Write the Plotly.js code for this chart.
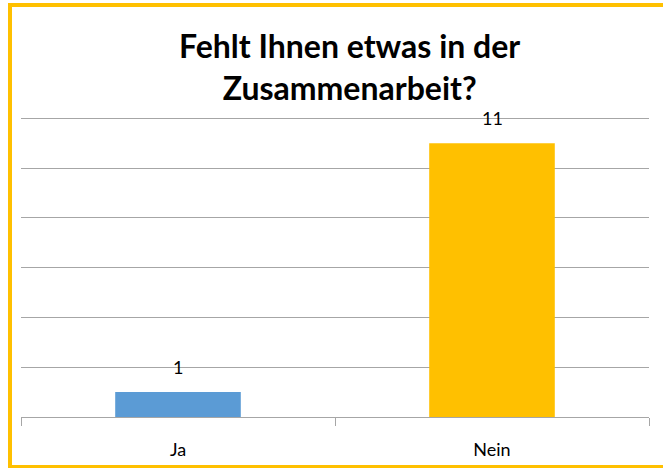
<!DOCTYPE html>
<html>
<head>
<meta charset="utf-8">
<script src="https://cdn.plot.ly/plotly-3.0.1.min.js"></script>
<style>html,body{margin:0;padding:0;background:#fff;overflow:hidden;}#chart{width:663px;height:468px;}</style>
</head>
<body>
<div id="chart"></div>
<script>
var categories = ["Ja", "Nein"];
var values = [1, 11];
var barColors = ["#5B9BD5", "#FFC000"];
var chartTitle = "Fehlt Ihnen etwas in der<br>Zusammenarbeit?";

var trace = {
  type: "bar",
  x: categories,
  y: values,
  marker: {color: barColors},
  hoverinfo: "x+y"
};

var annotations = categories.map(function (c, i) {
  return {
    x: c, y: values[i], xref: "x", yref: "y",
    text: String(values[i]), showarrow: false,
    yanchor: "bottom", yshift: 12,
    font: {family: "Lato, sans-serif", size: 18, color: "#000"}
  };
});

var W = 663, H = 468, ML = 21, MR = 14, MT = 111, MB = 51;
var PW = W - ML - MR, PH = H - MT - MB;
function px(x) { return (x - ML) / PW; }
function py(y) { return (H - MB - y) / PH; }

var layout = {
  width: W, height: H,
  margin: {l: ML, r: MR, t: MT, b: MB, pad: 0},
  paper_bgcolor: "#fff", plot_bgcolor: "#fff",
  bargap: 0.6,
  showlegend: false,
  title: {
    text: chartTitle,
    x: 347 / W, xanchor: "center", xref: "paper",
    y: 1 - 58 / H, yanchor: "middle",
    font: {family: "Lato, sans-serif", size: 32, color: "#000", weight: "bold"}
  },
  xaxis: {
    showline: true, linecolor: "#a6a6a6", linewidth: 1,
    ticks: "outside", ticklen: 8, tickcolor: "#a6a6a6", tickson: "boundaries",
    ticklabelstandoff: 16,
    showgrid: false, zeroline: false,
    tickfont: {family: "Lato, sans-serif", size: 18, color: "#000"}
  },
  yaxis: {
    range: [0, 12.3], dtick: 2, showticklabels: false,
    showgrid: true, gridcolor: "#a6a6a6", gridwidth: 1,
    zeroline: false, showline: false, ticks: ""
  },
  annotations: annotations,
  shapes: [
    {type: "line", xref: "paper", yref: "paper", x0: px(10), x1: px(10), y0: py(3), y1: py(466.5),
     line: {color: "#FFC000", width: 4}, layer: "below"},
    {type: "line", xref: "paper", yref: "paper", x0: px(8), x1: px(663), y0: py(5), y1: py(5),
     line: {color: "#FFC000", width: 4}, layer: "below"},
    {type: "line", xref: "paper", yref: "paper", x0: px(8), x1: px(663), y0: py(466.5), y1: py(466.5),
     line: {color: "#FFC000", width: 3}, layer: "below"}
  ]
};

Plotly.newPlot("chart", [trace], layout, {displayModeBar: false, staticPlot: true});
</script>
</body>
</html>
